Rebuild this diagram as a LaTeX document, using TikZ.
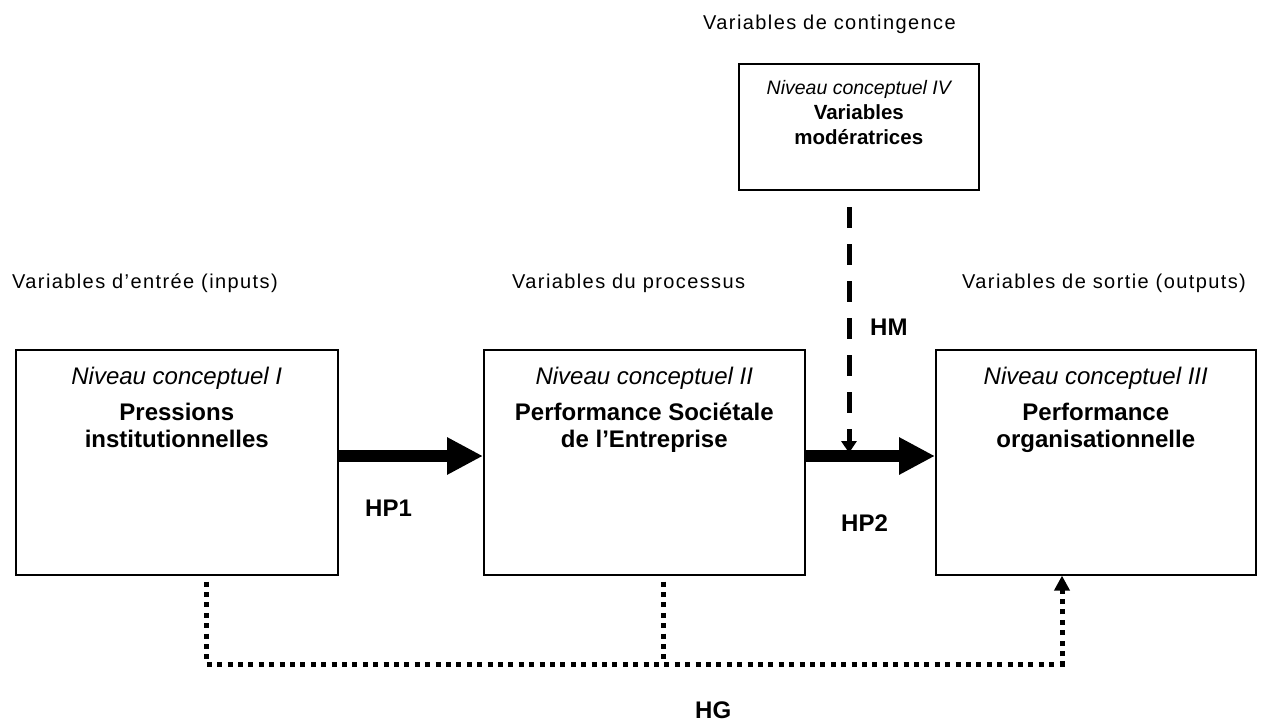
\documentclass[tikz,border=0pt]{standalone}
\usepackage{fontspec}
\setmainfont{Liberation Sans}
\newfontfamily\lblfont[LetterSpace=7]{Liberation Sans}
\usetikzlibrary{arrows.meta}
\begin{document}
\begin{tikzpicture}[x=1pt,y=-1pt,
  box/.style={draw, line width=1.6pt, anchor=north west, inner sep=0pt},
  boxtext/.style={anchor=north, align=center, inner sep=0pt, font=\fontsize{24}{27}\selectfont},
  toptext/.style={anchor=north, align=center, inner sep=0pt, font=\fontsize{19.5}{25}\selectfont},
  lbl/.style={anchor=base west, inner sep=0pt, font=\lblfont\fontsize{20}{24}\selectfont},
  hyp/.style={anchor=base west, inner sep=0pt, font=\fontsize{24}{27}\selectfont\bfseries},
  bigarrow/.style={line width=12pt, -{Triangle[length=36pt,width=35pt]}},
  hmline/.style={line width=5pt, dash pattern=on 21pt off 16pt, -{Triangle[length=12pt,width=15pt]}},
  dotline/.style={line width=5pt, dash pattern=on 5pt off 5.4pt}
]
\useasboundingbox (0,0) rectangle (1268,722);

% boxes
\node[box, minimum width=322pt, minimum height=225pt] (b1) at (15,349) {};
\node[box, minimum width=321pt, minimum height=225pt] (b2) at (483,349) {};
\node[box, minimum width=320pt, minimum height=225pt] (b3) at (935,349) {};
\node[box, minimum width=240pt, minimum height=126pt] (tb) at (738,63) {};

% box texts
\node[boxtext] (t1) at ([yshift=-18.3pt]b1.north) {{\itshape Niveau conceptuel I}\\[9pt]\textbf{Pressions}\\\textbf{institutionnelles}};
\node[boxtext] (t2) at ([yshift=-18.3pt]b2.north) {{\itshape Niveau conceptuel II}\\[9pt]\textbf{Performance Sociétale}\\\textbf{de l’Entreprise}};
\node[boxtext] (t3) at ([yshift=-18.3pt]b3.north) {{\itshape Niveau conceptuel III}\\[9pt]\textbf{Performance}\\\textbf{organisationnelle}};
\node[toptext] (t4) at ([yshift=-16.8pt]tb.north) {{\itshape Niveau conceptuel IV}\\{\fontsize{20.5}{25}\selectfont\bfseries Variables}\\{\fontsize{20.5}{25}\selectfont\bfseries modératrices}};

% labels
\node[lbl] (l0) at (703,30) {Variables de contingence};
\node[lbl] (l1) at (12,288) {Variables d’entrée (inputs)};
\node[lbl] (l2) at (512,288) {Variables du processus};
\node[lbl] (l3) at (962,288) {Variables de sortie (outputs)};

% hypotheses labels
\node[hyp] (hm) at (870,335) {HM};
\node[hyp] (hp1) at (365,516) {HP1};
\node[hyp] (hp2) at (841,531) {HP2};
\node[hyp] (hg) at (695,718) {HG};

% main arrows
\coordinate (ya) at (0,456);
\draw[bigarrow] (b1.east |- ya) -- (b2.west |- ya);
\draw[bigarrow] (b2.east |- ya) -- (b3.west |- ya);

% moderating dashed arrow
\coordinate (hmS) at (849,207);
\coordinate (hmE) at (849,453);
\draw[hmline] (hmS) -- (hmE);

% global dotted connector
\coordinate (g1) at (206,664);
\coordinate (g2) at (663,664);
\coordinate (g3) at (1062,664);
\draw[dotline, shorten <=6pt, -{Triangle[length=15pt,width=15pt]}] (b1.south -| g1) -- (g1) -- (g3) -- (b3.south -| g3);
\draw[dotline, shorten <=6pt] (b2.south -| g2) -- (g2);
\end{tikzpicture}
\end{document}
